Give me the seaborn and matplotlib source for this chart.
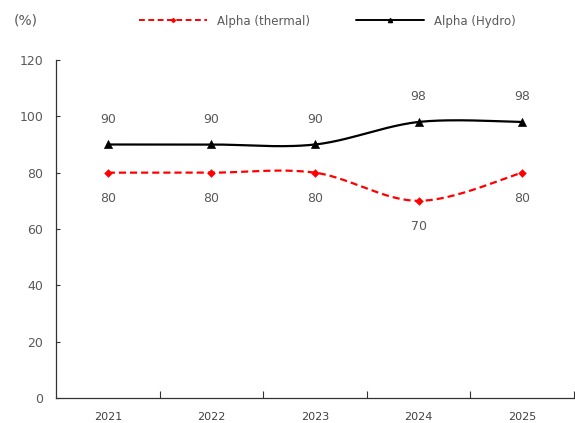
import numpy as np
import pandas as pd
import matplotlib
matplotlib.use("Agg")
import matplotlib.pyplot as plt
from matplotlib.lines import Line2D
import seaborn as sns

years = ["2021", "2022", "2023", "2024", "2025"]
thermal = [80, 80, 80, 70, 80]
hydro = [90, 90, 90, 98, 98]
y_ticks = [0, 20, 40, 60, 80, 100, 120]

sns.set_theme(style="white")
plt.rcParams["font.family"] = ["DejaVu Sans"]
TEXT = "#595959"


def smooth(xs, ys, n=40):
    """Cubic Bezier smoothing through every point (Catmull-Rom style)."""
    xs = np.asarray(xs, float)
    ys = np.asarray(ys, float)
    px = np.r_[xs[0], xs, xs[-1]]
    py = np.r_[ys[0], ys, ys[-1]]
    ox, oy = [], []
    t = np.linspace(0, 1, n)
    for i in range(len(xs) - 1):
        p0 = np.array([px[i + 1], py[i + 1]])
        p3 = np.array([px[i + 2], py[i + 2]])
        c1 = p0 + (np.array([px[i + 2], py[i + 2]]) - np.array([px[i], py[i]])) / 6
        c2 = p3 - (np.array([px[i + 3], py[i + 3]]) - np.array([px[i + 1], py[i + 1]])) / 6
        b = ((1 - t) ** 3)[:, None] * p0 + (3 * (1 - t) ** 2 * t)[:, None] * c1 \
            + (3 * (1 - t) * t ** 2)[:, None] * c2 + (t ** 3)[:, None] * p3
        ox.extend(b[:, 0])
        oy.extend(b[:, 1])
    return np.array(ox), np.array(oy)


df = pd.DataFrame({"x": np.arange(len(years)), "year": years,
                   "thermal": thermal, "hydro": hydro})

fig = plt.figure(figsize=(5.75, 4.23), dpi=100)
ax = fig.add_axes([56 / 575, 25 / 423, 518 / 575, 338 / 423])

sx, sy = smooth(df["x"], df["thermal"])
ax.plot(sx, sy, color="#ff0000", lw=1.6, ls=(0, (3.2, 1.8)), zorder=2)
sx, sy = smooth(df["x"], df["hydro"])
ax.plot(sx, sy, color="black", lw=1.6, zorder=2)

sns.scatterplot(data=df, x="x", y="thermal", marker="D", s=16, color="#ff0000",
                edgecolor="#ff0000", ax=ax, zorder=3, legend=False)
sns.scatterplot(data=df, x="x", y="hydro", marker="^", s=34, color="black",
                edgecolor="black", ax=ax, zorder=3, legend=False)

for i in range(len(years)):
    ax.annotate(f"{thermal[i]}", (i, thermal[i]), xytext=(0, -26), textcoords="offset pixels",
                ha="center", va="center", fontsize=9, color=TEXT)
    ax.annotate(f"{hydro[i]}", (i, hydro[i]), xytext=(0, 25), textcoords="offset pixels",
                ha="center", va="center", fontsize=9, color=TEXT)

ax.set_xlim(-0.5, len(years) - 0.5)
ax.set_ylim(0, 120)
ax.set_yticks(y_ticks)
ax.set_yticklabels([str(v) for v in y_ticks], fontsize=9, color=TEXT)
ax.set_xticks(range(len(years)))
ax.set_xticklabels(years, fontsize=8, color="#404040")
ax.tick_params(axis="x", length=0, pad=10)
ax.tick_params(axis="y", direction="in", length=3, width=0.8, color="#333333", pad=9, left=True)
ax.set_xticks(np.arange(0.5, len(years) + 0.5), minor=True)
ax.tick_params(axis="x", which="minor", direction="in", length=5, width=0.8, color="#333333", bottom=True)
ax.set_xlabel("")
ax.set_ylabel("")
for s in ["top", "right"]:
    ax.spines[s].set_visible(False)
for s in ["left", "bottom"]:
    ax.spines[s].set_color("#333333")
    ax.spines[s].set_linewidth(0.9)

handles = [
    Line2D([], [], color="#ff0000", lw=1.4, ls=(0, (3, 1.8)), marker="D", markersize=2),
    Line2D([], [], color="black", lw=1.4, marker="^", markersize=3),
]
fig.legend(handles, ["Alpha (thermal)", "Alpha (Hydro)"], loc="center",
           bbox_to_anchor=(327 / 575, 1 - 21 / 423), ncol=2, frameon=False,
           fontsize=8.5, labelcolor=TEXT, handlelength=5.8, columnspacing=3.9, handletextpad=0.8)
fig.text(14 / 575, 1 - 21 / 423, "(%)", fontsize=10, color=TEXT, ha="left", va="center")

fig.savefig("out.png", dpi=100)
